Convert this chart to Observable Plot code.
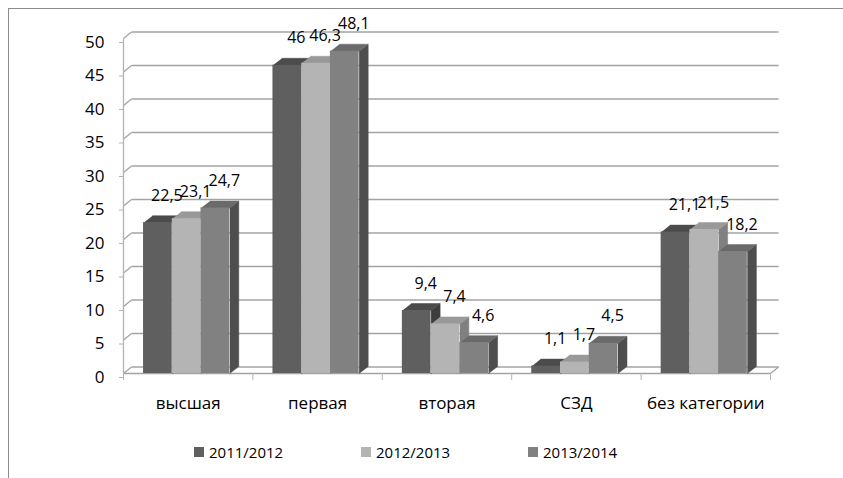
<!DOCTYPE html>
<html>
<head>
<meta charset="utf-8">
<script src="https://cdn.jsdelivr.net/npm/d3@7"></script>
<script src="https://cdn.jsdelivr.net/npm/@observablehq/plot@0.6"></script>
<style>
  html, body { margin: 0; padding: 0; background: #fff; overflow: hidden; }
  body { width: 843px; height: 478px; position: relative; font-family: "Open Sans", sans-serif; }
  #frame { position: absolute; left: 8px; top: 8px; width: 900px; height: 600px;
           border-left: 1.5px solid #8c8c8c; border-top: 1.5px solid #8c8c8c; }
  #chart { position: absolute; left: 0; top: 0; }
  #legend { position: absolute; left: 194px; top: 442px; display: flex; font-size: 15px; color: #000; }
  .item { width: 167px; display: flex; align-items: center; height: 20px; }
  .sw { width: 10px; height: 10px; margin-right: 5px; }
</style>
</head>
<body>
<div id="frame"></div>
<div id="chart"></div>
<div id="legend"></div>
<script>
// ---- data ----
const categories = ["высшая", "первая", "вторая", "СЗД", "без категории"];
const seriesNames = ["2011/2012", "2012/2013", "2013/2014"];
const values2011 = [22.5, 46, 9.4, 1.1, 21.1];
const values2012 = [23.1, 46.3, 7.4, 1.7, 21.5];
const values2013 = [24.7, 48.1, 4.6, 4.5, 18.2];
const yTicks = [0, 5, 10, 15, 20, 25, 30, 35, 40, 45, 50];

// ---- styles ----
const frontColors = ["#5f5f5f", "#b4b4b4", "#818181"];
const topColors = ["#4b4b4b", "#999999", "#6a6a6a"];
const sideColors = ["#3e3e3e", "#808080", "#4e4e4e"];
const gridColor = "#a3a3a3";

// geometry (in scale units)
const BAR_START = 0.155, BAR_W = 0.222;   // fraction of a category band
const DX = 0.07, DY = 1.05;               // bar depth
const WDX = 0.062, WDY = 0.97;            // wall depth
const N = categories.length;

const allValues = [values2011, values2012, values2013];
const fmt = v => String(v).replace(".", ",");

const marks = [];

// back wall gridlines
marks.push(Plot.link(yTicks, {x1: WDX, x2: N + WDX, y1: v => v + WDY, y2: v => v + WDY, stroke: gridColor, strokeWidth: 1.3}));
// left wall diagonals
marks.push(Plot.link(yTicks, {x1: 0, y1: v => v, x2: WDX, y2: v => v + WDY, stroke: gridColor, strokeWidth: 1.3}));
// floor front edge, right edge
marks.push(Plot.link([0], {x1: 0, y1: 0, x2: N, y2: 0, stroke: gridColor, strokeWidth: 1.3}));
marks.push(Plot.link([0], {x1: N, y1: 0, x2: N + WDX, y2: WDY, stroke: gridColor, strokeWidth: 1.3}));
// front y axis line
marks.push(Plot.link([0], {x1: 0, y1: 0, x2: 0, y2: 50, stroke: "#b3b3b3", strokeWidth: 1.3}));

// bars
allValues.forEach((vals, j) => {
  const rows = categories.map((c, i) => {
    const x1 = i + BAR_START + j * BAR_W;
    return {id: i, cat: c, v: vals[i], x1, x2: x1 + BAR_W};
  });
  const sides = rows.flatMap(r => [
    {id: r.id, x: r.x2, y: 0},
    {id: r.id, x: r.x2 + DX, y: DY},
    {id: r.id, x: r.x2 + DX, y: r.v + DY},
    {id: r.id, x: r.x2, y: r.v}
  ]);
  const tops = rows.flatMap(r => [
    {id: r.id, x: r.x1, y: r.v},
    {id: r.id, x: r.x2, y: r.v},
    {id: r.id, x: r.x2 + DX, y: r.v + DY},
    {id: r.id, x: r.x1 + DX, y: r.v + DY}
  ]);
  marks.push(Plot.line(sides, {x: "x", y: "y", z: "id", fill: sideColors[j], stroke: sideColors[j], strokeWidth: 0.5}));
  marks.push(Plot.line(tops, {x: "x", y: "y", z: "id", fill: topColors[j], stroke: topColors[j], strokeWidth: 0.5}));
  marks.push(Plot.rect(rows, {x1: "x1", x2: "x2", y1: 0, y2: "v", fill: frontColors[j]}));
});

// data labels
allValues.forEach((vals, j) => {
  const rows = categories.map((c, i) => ({xc: i + BAR_START + (j + 0.5) * BAR_W, v: vals[i]}));
  marks.push(Plot.text(rows, {x: "xc", y: "v", text: r => fmt(r.v), dx: 9, dy: -27, fontSize: 16, fill: "#000"}));
});

// axes
marks.push(Plot.axisY({ticks: yTicks, tickSize: 4, tickPadding: 15, dy: 4, fontSize: 17, stroke: "#b3b3b3", fill: "#000"}));
marks.push(Plot.axisX({ticks: d3.range(N + 1), tickSize: 7, tickFormat: () => "", stroke: "#b3b3b3"}));
marks.push(Plot.axisX({ticks: d3.range(N).map(i => i + 0.5), tickSize: 0, tickPadding: 23,
  tickFormat: d => categories[Math.floor(d)], fontSize: 17, fill: "#000"}));

const chart = Plot.plot({
  width: 843,
  height: 430,
  marginLeft: 123,
  marginRight: 73,
  marginTop: 38,
  marginBottom: 57,
  style: {fontFamily: "Open Sans", fontSize: "15px", color: "#000", background: "transparent"},
  x: {domain: [0, N], axis: null},
  y: {domain: [0, 50], axis: null},
  marks
});
document.getElementById("chart").appendChild(chart);

// legend
const legend = document.getElementById("legend");
seriesNames.forEach((name, j) => {
  const item = document.createElement("div");
  item.className = "item";
  const sw = document.createElement("div");
  sw.className = "sw";
  sw.style.background = frontColors[j];
  const label = document.createElement("span");
  label.textContent = name;
  item.appendChild(sw);
  item.appendChild(label);
  legend.appendChild(item);
});
</script>
</body>
</html>
